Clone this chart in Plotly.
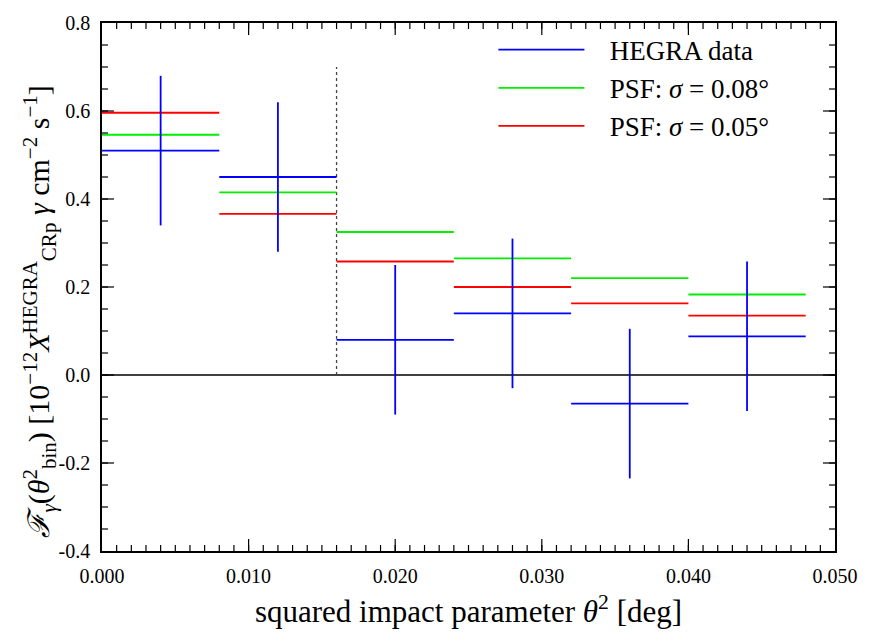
import plotly.graph_objects as go

# Bin edges in squared impact parameter (deg)
bin_edges = [0.000, 0.008, 0.016, 0.024, 0.032, 0.040, 0.048]

# Gamma-ray flux per bin
hegra_flux = [0.510, 0.450, 0.080, 0.140, -0.065, 0.088]
hegra_err = [0.170, 0.170, 0.170, 0.170, 0.170, 0.170]
psf_008 = [0.546, 0.415, 0.325, 0.265, 0.220, 0.183]
psf_005 = [0.596, 0.366, 0.258, 0.200, 0.163, 0.135]

# Integration radius marker
cut_theta2 = 0.016
cut_top = 0.70

# Axis ticks
x_range = [0.0, 0.05]
y_range = [-0.4, 0.8]
x_ticks = [0.000, 0.010, 0.020, 0.030, 0.040, 0.050]
x_tick_text = ["0.000", "0.010", "0.020", "0.030", "0.040", "0.050"]
y_ticks = [-0.4, -0.2, 0.0, 0.2, 0.4, 0.6, 0.8]
y_tick_text = ["-0.4", "-0.2", "0.0", "0.2", "0.4", "0.6", "0.8"]
x_minor_step = 0.001
y_minor_step = 0.05

FONT = "Liberation Serif, serif"
MAJOR_LEN = 12
MINOR_LEN = 6


def step_segments(values):
    xs, ys = [], []
    for i, v in enumerate(values):
        xs += [bin_edges[i], bin_edges[i + 1], None]
        ys += [v, v, None]
    return xs, ys


def error_segments(values, errs):
    xs, ys = [], []
    for i, (v, e) in enumerate(zip(values, errs)):
        xc = 0.5 * (bin_edges[i] + bin_edges[i + 1])
        xs += [xc, xc, None]
        ys += [v - e, v + e, None]
    return xs, ys


fig = go.Figure()

fig.add_trace(go.Scatter(
    x=x_range, y=[0, 0], mode="lines",
    line=dict(color="black", width=1.5), showlegend=False))

fig.add_trace(go.Scatter(
    x=[cut_theta2, cut_theta2], y=[0, cut_top], mode="lines",
    line=dict(color="#444444", width=1.3, dash="dot"), showlegend=False))

pad = "\u00a0\u00a0\u00a0"
series = [
    (pad + "HEGRA data", hegra_flux, "#0000ff"),
    (pad + "PSF: <i>σ</i> = 0.08°", psf_008, "#00ee00"),
    (pad + "PSF: <i>σ</i> = 0.05°", psf_005, "#ff0000"),
]
for name, vals, color in series:
    xs, ys = step_segments(vals)
    fig.add_trace(go.Scatter(
        x=xs, y=ys, mode="lines", name=name,
        line=dict(color=color, width=1.8)))

ex, ey = error_segments(hegra_flux, hegra_err)
fig.add_trace(go.Scatter(
    x=ex, y=ey, mode="lines", showlegend=False,
    line=dict(color="#0000ff", width=1.8)))

# Inward-pointing tick marks on all four sides of the frame
tick_line = dict(color="black", width=1.2)
n_xminor = int(round((x_range[1] - x_range[0]) / x_minor_step))
n_yminor = int(round((y_range[1] - y_range[0]) / y_minor_step))
x_minor = [round(x_range[0] + i * x_minor_step, 6) for i in range(1, n_xminor)]
y_minor = [round(y_range[0] + i * y_minor_step, 6) for i in range(1, n_yminor)]

for vals, length in ((x_minor, MINOR_LEN), (x_ticks[1:-1], MAJOR_LEN)):
    for v in vals:
        for anchor, sgn in ((0, 1), (1, -1)):
            fig.add_shape(type="line", xref="x", yref="paper",
                          ysizemode="pixel", yanchor=anchor,
                          x0=v, x1=v, y0=0, y1=sgn * length,
                          line=tick_line, layer="above")

for vals, length in ((y_minor, MINOR_LEN), (y_ticks[1:-1], MAJOR_LEN)):
    for v in vals:
        for anchor, sgn in ((0, 1), (1, -1)):
            fig.add_shape(type="line", xref="paper", yref="y",
                          xsizemode="pixel", xanchor=anchor,
                          x0=0, x1=sgn * length, y0=v, y1=v,
                          line=tick_line, layer="above")

frame = dict(showline=True, linecolor="black", linewidth=1.5, mirror=True,
             ticks="", showgrid=False, zeroline=False,
             tickfont=dict(family=FONT, size=20, color="black"))

fig.update_xaxes(
    range=x_range, tickmode="array", tickvals=x_ticks, ticktext=x_tick_text,
    ticklabelstandoff=6,
    title=dict(text="squared impact parameter <i>θ</i><sup>2</sup> [deg]",
               font=dict(family=FONT, size=31, color="black")),
    **frame)
fig.update_yaxes(
    range=y_range, tickmode="array", tickvals=y_ticks, ticktext=y_tick_text,
    ticklabelstandoff=6,
    **frame)

fig.add_annotation(
    xref="paper", yref="paper", x=-0.085, y=0.453, textangle=-90,
    showarrow=False, xanchor="center", yanchor="middle",
    text=("<i>ℱ</i><sub><i>γ</i></sub>(<i>θ</i><sup>2</sup><sub>bin</sub>) "
          "[10<sup>−12</sup><i>X</i><sup>HEGRA</sup><sub>CRp</sub> <i>γ</i> "
          "cm<sup>−2</sup> s<sup>−1</sup>]"),
    font=dict(family=FONT, size=30, color="black"))

fig.update_layout(
    width=870, height=635,
    margin=dict(l=102, r=34, t=15, b=67),
    font=dict(family=FONT, size=20, color="black"),
    plot_bgcolor="white", paper_bgcolor="white",
    legend=dict(x=0.534, y=0.995, xanchor="left", yanchor="top",
                bgcolor="rgba(0,0,0,0)", itemwidth=86,
                font=dict(family=FONT, size=27, color="black"),
                tracegroupgap=0),
)

fig.write_html("out.html")
